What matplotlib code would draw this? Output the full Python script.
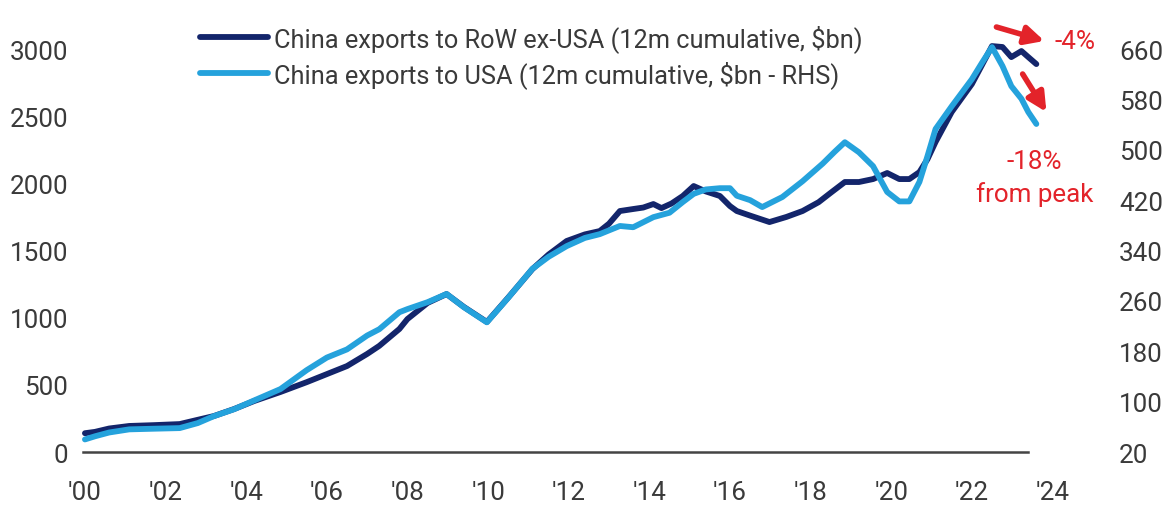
#!/usr/bin/env python3
"""China exports: RoW ex-USA vs USA, 12m cumulative"""

import matplotlib
matplotlib.use('Agg')
import matplotlib.pyplot as plt
from matplotlib import font_manager

# RoW ex-USA (left axis, $bn)
ROW_YEARS = [2000.0, 2000.25, 2000.6, 2001.1, 2001.7, 2002.35, 2002.8, 2003.2, 2003.7, 2004.2,
             2004.85, 2005.5, 2006.0, 2006.5, 2007.0, 2007.3, 2007.8, 2008.0, 2008.5, 2008.97,
             2009.4, 2009.97, 2010.5, 2011.1, 2011.5, 2011.95, 2012.4, 2012.77, 2013.0, 2013.27,
             2013.6, 2013.85, 2014.1, 2014.3, 2014.55, 2014.83, 2015.1, 2015.4, 2015.75, 2016.0,
             2016.17, 2016.5, 2016.98, 2017.4, 2017.8, 2018.2, 2018.5, 2018.85, 2019.2, 2019.55,
             2019.9, 2020.2, 2020.45, 2020.7, 2020.9, 2021.1, 2021.5, 2022.0, 2022.25, 2022.5,
             2022.76, 2022.98, 2023.23, 2023.4, 2023.6]
ROW_VALUES = [140, 150, 175, 194, 200, 208, 240, 268, 320, 380,
              447, 520, 580, 640, 730, 790, 916, 990, 1110, 1176,
              1080, 968, 1150, 1362, 1470, 1571, 1620, 1645, 1700, 1794,
              1809, 1820, 1846, 1816, 1850, 1906, 1980, 1940, 1906, 1831,
              1794, 1760, 1712, 1750, 1794, 1860, 1930, 2010, 2010, 2032,
              2077, 2032, 2032, 2084, 2180, 2308, 2531, 2739, 2880, 3022,
              3015, 2940, 2985, 2940, 2888]

# USA (right axis, $bn)
USA_YEARS = [2000.0, 2000.25, 2000.6, 2001.1, 2001.7, 2002.35, 2002.8, 2003.2, 2003.7, 2004.2,
             2004.85, 2005.5, 2006.0, 2006.5, 2007.0, 2007.3, 2007.8, 2008.0, 2008.5, 2008.97,
             2009.4, 2009.97, 2010.5, 2011.1, 2011.5, 2011.95, 2012.4, 2012.77, 2013.0, 2013.27,
             2013.6, 2013.85, 2014.1, 2014.5, 2014.83, 2015.1, 2015.4, 2015.75, 2016.0, 2016.17,
             2016.5, 2016.8, 2017.3, 2017.8, 2018.3, 2018.6, 2018.85, 2019.2, 2019.55, 2019.9,
             2020.2, 2020.45, 2020.7, 2020.9, 2021.1, 2021.5, 2022.0, 2022.25, 2022.5, 2022.76,
             2022.98, 2023.23, 2023.4, 2023.6]
USA_VALUES = [40, 45, 51, 56, 57, 58, 66, 77, 88, 102,
              120, 150, 170, 183, 205, 215, 242, 247, 258, 271,
              250, 226, 265, 311, 330, 347, 360, 366, 372, 379,
              377, 385, 393, 400, 417, 430, 437, 439, 439, 427,
              420, 409, 425, 450, 478, 497, 512, 496, 474, 433,
              418, 418, 449, 490, 533, 569, 612, 638, 663, 633,
              601, 581, 560, 541]

LEFT_TICKS = [0, 500, 1000, 1500, 2000, 2500, 3000]
RIGHT_TICKS = [20, 100, 180, 260, 340, 420, 500, 580, 660]
X_TICKS = list(range(2000, 2025, 2))
X_LABELS = [f"'{y % 100:02d}" for y in X_TICKS]

LABEL_ROW = 'China exports to RoW ex-USA (12m cumulative, $bn)'
LABEL_USA = 'China exports to USA (12m cumulative, $bn - RHS)'

DARK = '#13256b'
LIGHT = '#25a2dc'
RED = '#e3232a'
GREY = '#3a3a3a'


def pick_font():
    """use a narrow font if there is one, else Roboto"""
    try:
        font_manager.findfont('Liberation Sans Narrow', fallback_to_default=False)
        return 'Liberation Sans Narrow', 1.0
    except ValueError:
        return 'Roboto', 0.85


family, scale = pick_font()
plt.rcParams['font.family'] = [family, 'DejaVu Sans']
tick_size = 22 * scale
legend_size = 21.5 * scale

fig = plt.figure(figsize=(11.7, 5.06), dpi=100)
ax = fig.add_axes([0.0726, 0.1047, 0.934 - 0.0726, 0.9144 - 0.1047])
ax2 = ax.twinx()

left_top = 3050
ax.set_ylim(0, left_top)
ax2.set_ylim(20, 20 + left_top * 640 / 3000)
ax.set_xlim(2000, 2025)

l1, = ax.plot(ROW_YEARS, ROW_VALUES, color=DARK, lw=4.2, solid_capstyle='round',
              solid_joinstyle='round', clip_on=False, label=LABEL_ROW)
l2, = ax2.plot(USA_YEARS, USA_VALUES, color=LIGHT, lw=4.2, solid_capstyle='round',
               solid_joinstyle='round', clip_on=False, label=LABEL_USA)

for a in (ax, ax2):
    for side in ('top', 'left', 'right', 'bottom'):
        a.spines[side].set_visible(False)
ax.spines['bottom'].set_visible(True)
ax.spines['bottom'].set_bounds(1999.95, 2023.4)
ax.spines['bottom'].set_linewidth(1.8)
ax.spines['bottom'].set_color('#444444')

ax.set_yticks(LEFT_TICKS)
ax.set_yticklabels([str(t) for t in LEFT_TICKS])
ax2.set_yticks(RIGHT_TICKS)
ax2.set_yticklabels([str(t) for t in RIGHT_TICKS])
ax.set_xticks(X_TICKS)
ax.set_xticklabels(X_LABELS)
ax.tick_params(axis='y', length=0, pad=12, labelsize=tick_size, labelcolor=GREY)
ax2.tick_params(axis='y', length=0, pad=19, labelsize=tick_size, labelcolor=GREY)
ax.tick_params(axis='x', length=0, pad=20, labelsize=tick_size, labelcolor=GREY)

leg = ax2.legend(handles=[l1, l2], loc='upper left', bbox_to_anchor=(0.104, 1.07),
                 frameon=False, fontsize=legend_size, handlelength=2.7,
                 handletextpad=0.2, labelspacing=0.32, borderaxespad=0)
for text in leg.get_texts():
    text.set_color(GREY)

# red call-outs
arrow = dict(arrowstyle='-|>', color=RED, lw=4, mutation_scale=28, shrinkA=0, shrinkB=0)
ax.annotate('', xy=(2023.80, 3060), xytext=(2022.61, 3164), arrowprops=arrow,
            annotation_clip=False)
ax.annotate('', xy=(2023.85, 2531), xytext=(2023.26, 2814), arrowprops=arrow,
            annotation_clip=False)
ax.text(2024.55, 3060, '-4%', color=RED, fontsize=tick_size, ha='center', va='center',
        clip_on=False)
ax.text(2023.55, 2166, '-18%', color=RED, fontsize=tick_size, ha='center', va='center')
ax.text(2023.55, 1928, 'from peak', color=RED, fontsize=tick_size, ha='center', va='center')

fig.savefig('out.png', dpi=100)
